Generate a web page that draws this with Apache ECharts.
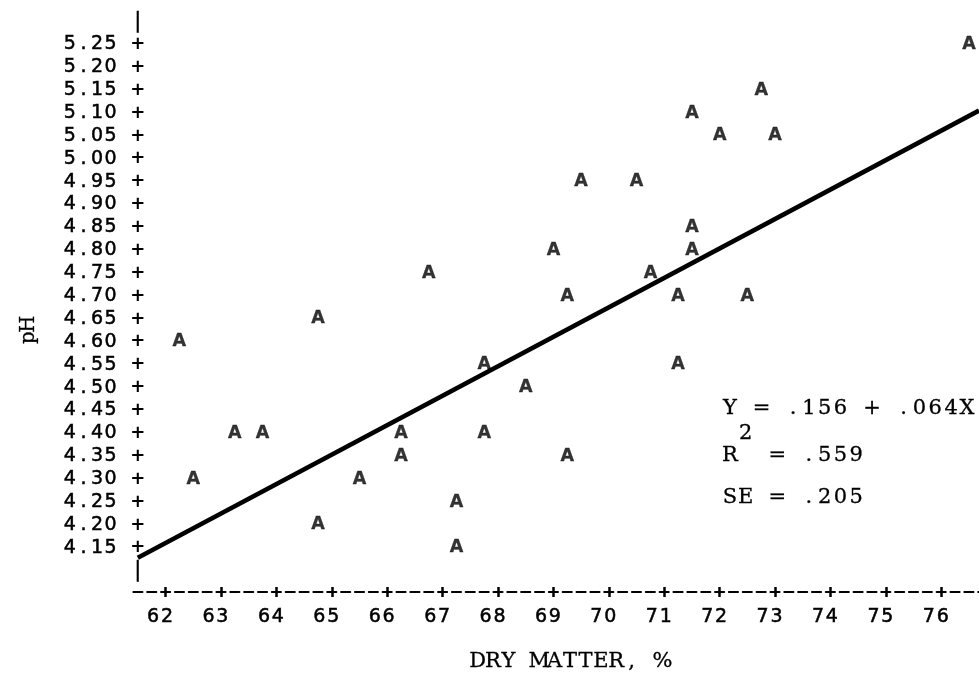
<!DOCTYPE html>
<html>
<head>
<meta charset="utf-8">
<script src="https://cdn.jsdelivr.net/npm/echarts@6/dist/echarts.min.js"></script>
<style>
html,body{margin:0;padding:0;background:#fff;}
#c{width:979px;height:681px;}
</style>
</head>
<body>
<div id="c"></div>
<script>
// Observations: dry matter (%) and pH
const dryMatter = [76.5, 72.75, 71.5, 72.0, 73.0, 69.5, 70.5, 71.5, 69.0, 71.5, 66.75, 70.75, 69.25, 71.25, 72.5, 64.75, 62.25, 67.75, 71.25, 68.5, 63.25, 63.75, 66.25, 67.75, 62.5, 66.25, 69.25, 65.5, 67.25, 64.75, 67.25];
const pHValues = [5.25, 5.15, 5.10, 5.05, 5.05, 4.95, 4.95, 4.85, 4.80, 4.80, 4.75, 4.75, 4.70, 4.70, 4.70, 4.65, 4.60, 4.55, 4.55, 4.50, 4.40, 4.40, 4.40, 4.40, 4.30, 4.35, 4.35, 4.30, 4.25, 4.20, 4.15];
// Fitted regression line (as drawn)
const fitX = [61.5, 76.68];
const fitY = [4.125, 5.102];
// Tick labels
const xTicks = [62, 63, 64, 65, 66, 67, 68, 69, 70, 71, 72, 73, 74, 75, 76];
const yTicks = [4.10, 4.15, 4.20, 4.25, 4.30, 4.35, 4.40, 4.45, 4.50, 4.55, 4.60, 4.65, 4.70, 4.75, 4.80, 4.85, 4.90, 4.95, 5.00, 5.05, 5.10, 5.15, 5.20, 5.25, 5.30];
const eqLines = ['Y = .156 + .064X', 'R  = .559', 'SE = .205'];
const xTitle = 'DRY MATTER, %';
const yTitle = 'pH';

const ink = '#000';
const gothic = 'DejaVu Sans';
const serif = 'DejaVu Serif';
const yCell = 13.6, xCell = 13.85;

function yLabel(v) {
  const k = Math.round(v * 100);
  if (k === 530 || k === 410) return '{s| }{s| }{s| }{s| }{s| }{b||}';
  const s = (k / 100).toFixed(2);
  return s.split('').map(ch => '{d|' + ch + '}').join('') + '{s| }{p|+}';
}
function xLabel(v) {
  return String(Math.round(v)).split('').map(ch => '{d|' + ch + '}').join('');
}
function typed(txt) {
  return txt.split('').map(ch => '{c|' + ch + '}').join('');
}

const digitStyle = {align: 'center', fontFamily: gothic, fontSize: 19, color: ink, textBorderColor: ink, textBorderWidth: 0.5};
const typeStyle = (txt, size, cellW, align) => ({
  text: typed(txt), align: align, verticalAlign: 'middle',
  rich: {c: {width: cellW, align: 'center', fontFamily: serif, fontSize: size, fill: ink, stroke: ink, lineWidth: 0.3, lineHeight: size + 4}}
});

const chart = echarts.init(document.getElementById('c'));
const xMin = 61.42, xMax = 76.68;
const option = {
  backgroundColor: '#fff',
  animation: false,
  grid: {left: 133.4, right: 0, top: 20, bottom: 89, containLabel: false},
  xAxis: [{
    type: 'value', min: xMin, max: xMax, position: 'bottom',
    axisLine: {show: true, lineStyle: {color: ink, width: 2.2, type: [9, 4.85], dashOffset: 0}},
    axisTick: {show: true, length: 5, customValues: xTicks, lineStyle: {color: ink, width: 2.5}},
    axisLabel: {
      customValues: xTicks, margin: 14, padding: [0, 11, 0, 0],
      formatter: xLabel,
      rich: {
        d: Object.assign({width: xCell, lineHeight: 22}, digitStyle)
      }
    },
    splitLine: {show: false}
  }, {
    type: 'value', min: xMin, max: xMax, position: 'bottom',
    axisLine: {show: false},
    axisTick: {show: true, inside: true, length: 5, customValues: xTicks, lineStyle: {color: ink, width: 2.5}},
    axisLabel: {show: false},
    splitLine: {show: false}
  }],
  yAxis: {
    type: 'value', min: 4.05, max: 5.30,
    axisLine: {show: false},
    axisTick: {show: false},
    splitLine: {show: false},
    axisLabel: {
      customValues: yTicks, margin: -11.2, padding: [3, 0, 0, 0],
      formatter: yLabel,
      rich: {
        d: Object.assign({width: yCell, lineHeight: 21}, digitStyle),
        s: Object.assign({width: yCell, lineHeight: 21}, digitStyle),
        p: {width: yCell, align: 'center', fontFamily: gothic, fontWeight: 'bold', fontSize: 18, color: ink, lineHeight: 21},
        b: {width: yCell, align: 'center', fontFamily: gothic, fontSize: 21, color: ink, lineHeight: 24, textBorderColor: ink, textBorderWidth: 0.4}
      }
    }
  },
  series: [{
    type: 'line',
    data: fitX.map((x, i) => [x, fitY[i]]),
    symbol: 'none',
    silent: true,
    lineStyle: {color: '#000', width: 4.5}
  }, {
    type: 'scatter',
    data: dryMatter.map((x, i) => [x, pHValues[i]]),
    symbolSize: 1,
    itemStyle: {color: 'rgba(0,0,0,0)'},
    label: {show: true, position: 'inside', offset: [0, 1.5], formatter: 'A', fontFamily: gothic, fontWeight: 'bold', fontSize: 17.5, color: ink, textBorderColor: ink, textBorderWidth: 0.3}
  }],
  graphic: [
    {type: 'text', x: 722, y: 409, style: typeStyle(eqLines[0], 21, 15.8, 'left')},
    {type: 'text', x: 722, y: 456, style: typeStyle(eqLines[1], 21, 15.8, 'left')},
    {type: 'text', x: 737.8, y: 434, style: typeStyle('2', 21, 15.8, 'left')},
    {type: 'text', x: 722, y: 497.5, style: typeStyle(eqLines[2], 21, 15.8, 'left')},
    {type: 'text', x: 570, y: 662, style: typeStyle(xTitle, 21, 15.4, 'center')},
    {type: 'text', x: 28.5, y: 331, rotation: Math.PI / 2, style: typeStyle(yTitle, 19.5, 13.5, 'center')}
  ]
};
chart.setOption(option);
</script>
</body>
</html>
